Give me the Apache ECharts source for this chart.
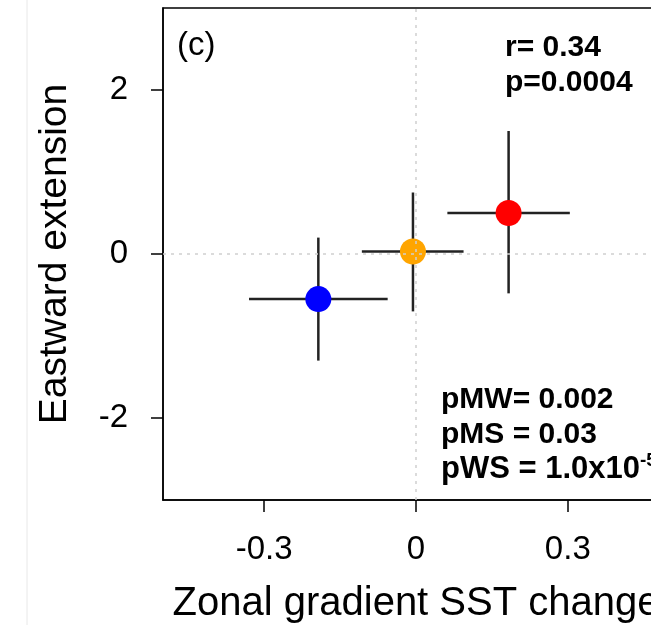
<!DOCTYPE html>
<html><head><meta charset="utf-8">
<script src="https://cdn.jsdelivr.net/npm/echarts@6/dist/echarts.min.js"></script>
<style>html,body{margin:0;padding:0;background:#fff;}#c{width:651px;height:625px;}</style>
</head><body><div id="c"></div>
<script>
const groups = ['Group A', 'Group B', 'Group C'];
const colors = ['#0000FF', '#FFA500', '#FF0000'];
const xValues = [-0.193, -0.006, 0.183];
const yValues = [-0.55, 0.03, 0.50];
const xLow = [-0.330, -0.107, 0.062];
const xHigh = [-0.056, 0.094, 0.304];
const yLow = [-1.30, -0.70, -0.48];
const yHigh = [0.20, 0.75, 1.50];
const xTicks = [-0.3, 0, 0.3];
const yTicks = [-2, 0, 2];
const statsTop = ['r= 0.34', 'p=0.0004'];
const statsBottom = ['pMW= 0.002', 'pMS = 0.03', 'pWS = 1.0x10'];
const pwsExponent = '-5';

const FONT = '"Liberation Sans", Arial, Helvetica, sans-serif';
const chart = echarts.init(document.getElementById('c'));

const errData = groups.map((g, i) => [xValues[i], yValues[i], xLow[i], xHigh[i], yLow[i], yHigh[i]]);
const ptData = groups.map((g, i) => ({ value: [xValues[i], yValues[i]], itemStyle: { color: colors[i], opacity: 1 } }));

const bottomText = statsBottom.map((s, i) => i === statsBottom.length - 1 ? '{c|' + s + '}{sup|' + pwsExponent + '}' : '{b|' + s + '}').join('\n');

chart.setOption({
  animation: false,
  grid: { left: 163, top: 8, width: 506, height: 492, show: true, borderColor: '#000', borderWidth: 1.5, backgroundColor: 'transparent', outerBoundsMode: 'none', containLabel: false },
  xAxis: {
    type: 'value', min: -0.5, max: 0.5,
    name: 'Zonal gradient SST change', nameLocation: 'middle', nameGap: 84,
    nameTextStyle: { fontFamily: FONT, fontSize: 40, color: '#000' },
    axisLine: { show: true, onZero: false, lineStyle: { color: '#000', width: 1.5 } },
    axisTick: { show: true, length: 12, customValues: xTicks, lineStyle: { color: '#000', width: 1.5 } },
    axisLabel: { customValues: xTicks, margin: 33, fontFamily: FONT, fontSize: 33, color: '#000' },
    splitLine: { show: false }
  },
  yAxis: {
    type: 'value', min: -3, max: 3,
    name: 'Eastward extension', nameLocation: 'middle', nameGap: 88,
    nameTextStyle: { fontFamily: FONT, fontSize: 39, color: '#000' },
    axisLine: { show: true, onZero: false, lineStyle: { color: '#000', width: 1.5 } },
    axisTick: { show: true, length: 12, customValues: yTicks, lineStyle: { color: '#000', width: 1.5 } },
    axisLabel: { customValues: yTicks, margin: 35, fontFamily: FONT, fontSize: 33, color: '#000' },
    splitLine: { show: false }
  },
  graphic: [
    { type: 'line', shape: { x1: 27, y1: 0, x2: 27, y2: 625 }, style: { stroke: '#e8e8e8', lineWidth: 1 } },
    { type: 'text', left: 177, top: 29, style: { text: '(c)', font: '33px ' + FONT, fill: '#000' } },
    { type: 'text', left: 505, top: 30, style: { text: statsTop.join('\n'), font: 'bold 30px ' + FONT, lineHeight: 35, fill: '#000' } },
    { type: 'text', left: 441, top: 385, style: {
        text: bottomText, fill: '#000',
        rich: {
          b: { fontFamily: FONT, fontWeight: 'bold', fontSize: 30, lineHeight: 34.5, fill: '#000' },
          c: { fontFamily: FONT, fontWeight: 'bold', fontSize: 31, lineHeight: 34.5, fill: '#000' },
          sup: { fontFamily: FONT, fontWeight: 'bold', fontSize: 19, lineHeight: 34.5, verticalAlign: 'top', fill: '#000' }
        }
    } }
  ],
  series: [
    {
      type: 'custom', z: 2,
      data: errData,
      renderItem: function (params, api) {
        const c = api.coord([api.value(0), api.value(1)]);
        const l = api.coord([api.value(2), api.value(1)]);
        const r = api.coord([api.value(3), api.value(1)]);
        const b = api.coord([api.value(0), api.value(4)]);
        const t = api.coord([api.value(0), api.value(5)]);
        const st = { stroke: '#222', lineWidth: 2.5 };
        return { type: 'group', children: [
          { type: 'line', shape: { x1: l[0], y1: l[1], x2: r[0], y2: r[1] }, style: st },
          { type: 'line', shape: { x1: c[0], y1: b[1], x2: c[0], y2: t[1] }, style: st }
        ] };
      },
      markLine: {
        silent: true, symbol: 'none', label: { show: false },
        lineStyle: { color: '#cfcfcf', type: [3, 5], width: 1.5 },
        data: [{ xAxis: 0 }, { yAxis: 0 }]
      }
    },
    {
      type: 'scatter', z: 3, symbol: 'circle', symbolSize: 26,
      itemStyle: { opacity: 1 },
      data: ptData
    }
  ]
});
</script></body></html>
